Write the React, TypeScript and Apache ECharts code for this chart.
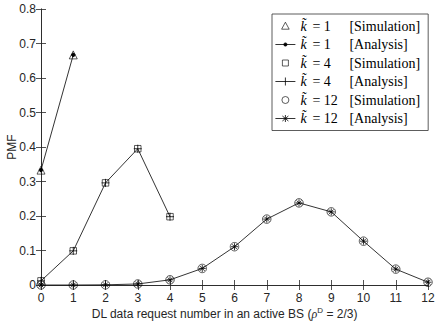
import React, { useEffect, useRef } from "react";
import * as echarts from "echarts";

const xK1 = [0, 1];
const k1Sim = [0.333, 0.667];
const k1Ana = [0.333, 0.667];

const xK4 = [0, 1, 2, 3, 4];
const k4Sim = [0.012, 0.099, 0.296, 0.395, 0.198];
const k4Ana = [0.012, 0.099, 0.296, 0.395, 0.198];

const xK12 = [0, 1, 2, 3, 4, 5, 6, 7, 8, 9, 10, 11, 12];
const k12Sim = [0.0, 0.0, 0.0005, 0.003, 0.015, 0.048, 0.111, 0.191, 0.238, 0.212, 0.127, 0.046, 0.008];
const k12Ana = [0.0, 0.0, 0.0005, 0.003, 0.015, 0.048, 0.111, 0.191, 0.238, 0.212, 0.127, 0.046, 0.008];

const legendNames = [
  "k̃ = 1 [Simulation]",
  "k̃ = 1 [Analysis]",
  "k̃ = 4 [Simulation]",
  "k̃ = 4 [Analysis]",
  "k̃ = 12 [Simulation]",
  "k̃ = 12 [Analysis]",
];

const PLUS = "path://M5,0L5,10M0,5L10,5";
const STAR = "path://M5,0L5,10M0,5L10,5M1.5,1.5L8.5,8.5M8.5,1.5L1.5,8.5";

// legend icons drawn in a 20x10 box (bounding moves keep scale at 1)
const BOX = "M0,0M20,10";
const ICON_TRI = `path://${BOX}M10,1.2L13.8,8.2L6.2,8.2Z`;
const ICON_DOT = `path://${BOX}M0,5L20,5M11.6,5A1.6,1.6,0,1,1,8.4,5A1.6,1.6,0,1,1,11.6,5Z`;
const ICON_SQ = `path://${BOX}M7,2L13,2L13,8L7,8Z`;
const ICON_PLUS = `path://${BOX}M0,5L20,5M10,1L10,9`;
const ICON_CIRC = `path://${BOX}M13.5,5A3.5,3.5,0,1,1,6.5,5A3.5,3.5,0,1,1,13.5,5Z`;
const ICON_STAR = `path://${BOX}M0,5L20,5M10,1.5L10,8.5M7,2.5L13,7.5M13,2.5L7,7.5`;

const pairs = (xs: number[], ys: number[]) => xs.map((x, i) => [x, ys[i]]);

export default function App() {
  const ref = useRef<HTMLDivElement>(null);
  useEffect(() => {
    if (!ref.current) return;
    const chart = echarts.init(ref.current, null, { renderer: "svg" });
    const axisColor = "#262626";
    const openItem = { color: "transparent", borderColor: "#000", borderWidth: 0.8 };
    const lineItem = { color: "#000", borderColor: "#000", borderWidth: 0.8 };
    const lineStyle = { color: "#000", width: 0.8 };
    const openIcon = { color: "transparent", borderColor: "#000", borderWidth: 0.8 };
    const solidIcon = { color: "#000", borderColor: "#000", borderWidth: 0.8 };
    const icons = [ICON_TRI, ICON_DOT, ICON_SQ, ICON_PLUS, ICON_CIRC, ICON_STAR];
    chart.setOption({
      animation: false,
      backgroundColor: "#fff",
      grid: { left: 41, right: 8, top: 9, bottom: 42, outerBoundsMode: "none", containLabel: false },
      legend: {
        orient: "vertical",
        left: 272,
        top: 14,
        padding: [5, 8, 5, 3],
        itemGap: 4.5,
        itemWidth: 20,
        itemHeight: 10,
        itemTextGap: 3,
        symbolKeepAspect: true,
        borderColor: "#333",
        borderWidth: 0.8,
        backgroundColor: "#fff",
        data: legendNames.map((n, i) => ({
          name: n,
          icon: icons[i],
          itemStyle: i % 2 === 0 ? openIcon : solidIcon,
        })),
        formatter: (name: string) => {
          const m = name.match(/= (\d+) \[(\w+)\]/);
          if (!m) return name;
          return `{k|k̃}{e|= ${m[1]}}{b|[${m[2]}]}`;
        },
        textStyle: {
          fontFamily: "Liberation Serif",
          fontSize: 14,
          color: "#000",
          rich: {
            k: { fontFamily: "Liberation Serif", fontStyle: "italic", fontSize: 14, width: 12, color: "#000" },
            e: { fontFamily: "Liberation Serif", fontSize: 14, width: 37, color: "#000" },
            b: { fontFamily: "Liberation Serif", fontSize: 14, color: "#000" },
          },
        },
      },
      xAxis: [
        {
          type: "value",
          min: 0,
          max: 12,
          interval: 1,
          name: "DL data request number in an active BS ({r|ρ}{s|D} = 2/3)",
          nameLocation: "middle",
          nameGap: 21,
          nameMoveOverlap: false,
          nameTextStyle: {
            fontFamily: "Liberation Sans",
            fontSize: 12,
            color: "#262626",
            padding: [0, 20, 0, 0],
            rich: {
              r: { fontFamily: "Liberation Serif", fontStyle: "italic", fontSize: 12, color: "#262626" },
              s: { fontFamily: "Liberation Sans", fontSize: 8, color: "#262626", padding: [0, 0, 7, 0] },
            },
          },
          axisLine: { show: true, lineStyle: { color: axisColor, width: 0.8 } },
          axisTick: { inside: true, length: 5, lineStyle: { color: axisColor, width: 0.8 } },
          axisLabel: { fontFamily: "Liberation Sans", fontSize: 12, color: "#262626", margin: 7 },
          splitLine: { show: false },
        },
        {
          type: "value",
          position: "top",
          min: 0,
          max: 12,
          interval: 1,
          axisLine: { show: true, lineStyle: { color: axisColor, width: 0.8 } },
          axisTick: { inside: true, length: 5, lineStyle: { color: axisColor, width: 0.8 } },
          axisLabel: { show: false },
          splitLine: { show: false },
        },
      ],
      yAxis: [
        {
          type: "value",
          min: 0,
          max: 0.8,
          interval: 0.1,
          name: "PMF",
          nameLocation: "middle",
          nameGap: 23,
          nameMoveOverlap: false,
          nameTextStyle: { fontFamily: "Liberation Sans", fontSize: 12, color: "#262626" },
          axisLine: { show: true, lineStyle: { color: axisColor, width: 0.8 } },
          axisTick: { inside: true, length: 5, lineStyle: { color: axisColor, width: 0.8 } },
          axisLabel: {
            fontFamily: "Liberation Sans",
            fontSize: 12,
            color: "#262626",
            margin: 5,
            formatter: (v: number) => (v === 0 ? "0" : v.toFixed(1)),
          },
          splitLine: { show: false },
        },
        {
          type: "value",
          position: "right",
          min: 0,
          max: 0.8,
          interval: 0.1,
          axisLine: { show: true, lineStyle: { color: axisColor, width: 0.8 } },
          axisTick: { inside: true, length: 5, lineStyle: { color: axisColor, width: 0.8 } },
          axisLabel: { show: false },
          splitLine: { show: false },
        },
      ],
      series: [
        {
          name: legendNames[0],
          type: "scatter",
          symbol: "triangle",
          symbolSize: 8,
          itemStyle: openItem,
          data: pairs(xK1, k1Sim),
          z: 3,
        },
        {
          name: legendNames[1],
          type: "line",
          symbol: "circle",
          symbolSize: 3.5,
          showAllSymbol: true,
          itemStyle: lineItem,
          lineStyle,
          data: pairs(xK1, k1Ana),
          z: 2,
        },
        {
          name: legendNames[2],
          type: "scatter",
          symbol: "rect",
          symbolSize: 6.5,
          itemStyle: openItem,
          data: pairs(xK4, k4Sim),
          z: 3,
        },
        {
          name: legendNames[3],
          type: "line",
          symbol: PLUS,
          symbolSize: 8,
          showAllSymbol: true,
          itemStyle: lineItem,
          lineStyle,
          data: pairs(xK4, k4Ana),
          z: 2,
        },
        {
          name: legendNames[4],
          type: "scatter",
          symbol: "circle",
          symbolSize: 8.5,
          itemStyle: openItem,
          data: pairs(xK12, k12Sim),
          z: 3,
        },
        {
          name: legendNames[5],
          type: "line",
          symbol: STAR,
          symbolSize: 7,
          showAllSymbol: true,
          itemStyle: lineItem,
          lineStyle,
          data: pairs(xK12, k12Ana),
          z: 2,
        },
      ],
    });
    return () => chart.dispose();
  }, []);
  return (
    <div
      ref={ref}
      style={{ position: "absolute", left: 0, top: 0, width: 436, height: 327 }}
    />
  );
}
